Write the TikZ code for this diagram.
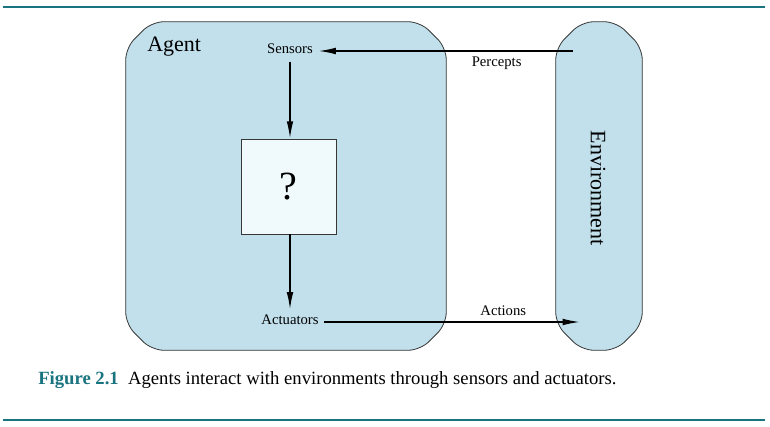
\documentclass[tikz,border=0pt]{standalone}
\usepackage{fontspec}
\setmainfont{Liberation Serif}
\usetikzlibrary{positioning, arrows.meta, calc}

\definecolor{capteal}{RGB}{26,116,128}
\definecolor{boxblue}{RGB}{193,224,236}
\definecolor{qblue}{RGB}{240,250,253}
\definecolor{edgegray}{RGB}{55,55,55}

\tikzset{
  unitbox/.style={rectangle, inner sep=0pt},
  chamfer/.style={draw=edgegray, line width=0.6pt, fill=boxblue, rounded corners=9pt},
  flow/.style={-{Latex[length=13pt,width=5pt]}, line width=1.2pt, black},
  lbl/.style={font=\fontsize{11}{13}\selectfont, inner sep=4pt},
}

% contorno chanfrado em volta de um nó
\newcommand{\chamferbox}[2]{%
  \draw[chamfer] ($(#1.north west)+(0,#2)$) -- ($(#1.north west)+(#2,0)$)
    -- ($(#1.north east)+(-#2,0)$) -- ($(#1.north east)+(0,#2)$)
    -- ($(#1.south east)+(0,-#2)$) -- ($(#1.south east)+(-#2,0)$)
    -- ($(#1.south west)+(#2,0)$) -- ($(#1.south west)+(0,-#2)$) -- cycle;}

\begin{document}
\begin{tikzpicture}[x=0.75pt, y=-0.75pt]

  % --- MOLDURA ---
  \useasboundingbox (0,0) rectangle (770,427);
  \def\yTop{7}
  \def\yBot{420}
  \coordinate (ruleTL) at (3,\yTop);
  \coordinate (ruleTR) at (765,\yTop);
  \coordinate (ruleBL) at (3,\yBot);
  \coordinate (ruleBR) at (765,\yBot);
  \draw[capteal, line width=2.2pt] (ruleTL) -- (ruleTR);
  \draw[capteal, line width=2.2pt] (ruleBL) -- (ruleBR);

  % --- BLOCOS ---
  % Agente (esquerda) e ambiente (direita)
  \node[unitbox, minimum width=240pt, minimum height=246pt] (agent) at (286,186) {};
  \node[unitbox, minimum width=64.5pt, minimum height=246pt] (env) at (599,186) {};
  \chamferbox{agent}{26}
  \chamferbox{env}{26}
  \node[anchor=west, font=\fontsize{16.5}{18}\selectfont, inner sep=0pt] (agentlbl) at (147,47) {Agent};
  \node[rotate=-90, font=\fontsize{16.5}{18}\selectfont] (envlbl) at (598,188) {Environment};

  % Caixa central da função do agente
  \node[draw=edgegray, line width=0.6pt, fill=qblue, minimum size=71.25pt,
        font=\fontsize{30}{32}\selectfont] (qbox) at (288.5,186.5) {?};

  % --- SENSORES E ATUADORES ---
  \node[lbl] (sensors) at (290,49) {Sensors};
  \node[lbl] (actuators) at (290,320) {Actuators};
  \coordinate (perceptsrc) at (573,51);
  \coordinate (actiondst) at (580,322);

  % --- CONEXÕES ---
  \draw[flow] (perceptsrc) -- node[lbl, below, pos=0.3] (percepts) {Percepts} (sensors.east |- perceptsrc);
  \draw[flow] ($(sensors.south)+(0,2)$) -- (sensors |- qbox.north);
  \draw[flow] (sensors |- qbox.south) -- (actuators);
  \draw[flow] (actuators.east |- actiondst) -- node[lbl, above, pos=0.7] (actions) {Actions} (actiondst);

  % --- LEGENDA ---
  \node[anchor=base west, inner sep=0pt, font=\fontsize{14}{16}\selectfont] (caption) at (38,384)
    {\textbf{\color{capteal}Figure 2.1}\hspace{7pt}Agents interact with environments through sensors and actuators.};

\end{tikzpicture}
\end{document}
